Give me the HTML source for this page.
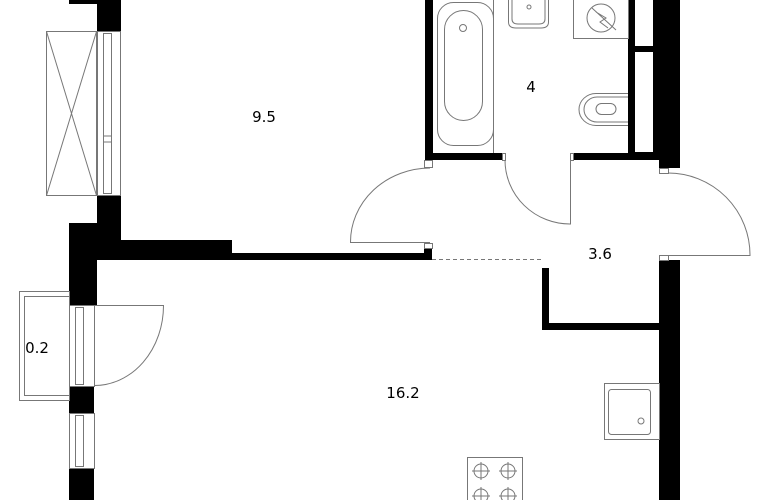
<!DOCTYPE html>
<html><head><meta charset="utf-8"><style>
html,body{margin:0;padding:0;background:#fff;}
svg{display:block;}
text{font-family:"DejaVu Sans","Liberation Sans",sans-serif;font-size:15px;fill:#000;}
</style></head><body>
<svg width="770" height="500" viewBox="0 0 770 500" xmlns="http://www.w3.org/2000/svg">
<g fill="#000">
<!-- left walls -->
<rect x="69" y="0" width="52" height="4"/>
<rect x="97" y="0" width="24" height="31"/>
<rect x="97" y="195" width="24" height="65"/>
<rect x="69" y="223" width="28" height="82"/>
<rect x="97" y="240" width="135" height="20"/>
<rect x="232" y="253" width="200" height="7"/>
<rect x="424" y="248" width="8" height="12"/>
<rect x="69" y="386" width="25" height="27"/>
<rect x="69" y="468" width="25" height="32"/>
<!-- bathroom walls -->
<rect x="425" y="0" width="8" height="160"/>
<rect x="425" y="153" width="77" height="7"/>
<rect x="573" y="153" width="87" height="7"/>
<rect x="628" y="0" width="52" height="160"/>
<rect x="659" y="0" width="21" height="168"/>
<rect x="659" y="260" width="21" height="240"/>
<rect x="542" y="268" width="7" height="62"/>
<rect x="542" y="323" width="117" height="7"/>
</g>
<g fill="#fff">
<rect x="635" y="0" width="18" height="46"/>
<rect x="635" y="52" width="18" height="100"/>
</g>
<g fill="none" stroke="#777" stroke-width="1">
<!-- AC box & window -->
<rect x="46.5" y="31.5" width="50" height="164"/>
<path d="M46.5 31.5 L96.5 195.5 M96.5 31.5 L46.5 195.5"/>
<rect x="97.5" y="31.5" width="23" height="164"/>
<rect x="103.5" y="33.5" width="8" height="160"/>
<path d="M103.5 136 h8 M103.5 142 h8"/>
<!-- balcony -->
<rect x="19.5" y="291.5" width="50" height="109"/>
<rect x="24.5" y="296.5" width="45" height="99"/>
<rect x="69.5" y="305.5" width="25" height="81"/>
<rect x="75.5" y="307.5" width="8" height="77"/>
<rect x="69.5" y="413.5" width="25" height="55"/>
<rect x="75.5" y="415.5" width="8" height="51"/>
<path d="M94 305.5 H163.5 A69 80 0 0 1 94 385.5"/>
<!-- room door -->
<path d="M430 168 A80 74 0 0 0 350.5 242.5 H430"/>
<rect x="424.5" y="160.5" width="8" height="7"/>
<rect x="424.5" y="243.5" width="8" height="5"/>
<!-- bath door -->
<path d="M505 160 A65 64 0 0 0 570.5 224 V160"/>
<rect x="502.5" y="153.5" width="3" height="7"/>
<rect x="570.5" y="153.5" width="3" height="7"/>
<!-- entrance door -->
<path d="M668 173 A82 82 0 0 1 750 255.5 H668"/>
<rect x="659.5" y="168.5" width="9" height="5"/>
<rect x="659.5" y="255.5" width="9" height="5"/>
<!-- bath -->
<rect x="437.5" y="2.5" width="56" height="143" rx="16"/>
<rect x="444.5" y="10.5" width="38" height="110" rx="19"/>
<circle cx="463" cy="28" r="3.5"/>
<path d="M493.5 0 V153"/>
<!-- sink -->
<path d="M508.5 0 V22 Q508.5 28 516 28 H541 Q548.5 28 548.5 22 V0"/>
<path d="M512 0 V19 Q512 24 518 24 H539 Q545 24 545 19 V0"/>
<circle cx="529" cy="7" r="2"/>
<!-- washing machine -->
<rect x="573.5" y="-1" width="55" height="39.5"/>
<circle cx="601" cy="18" r="14"/>
<path d="M592 8 L616 30 M596 12 L606 18 L600 22 L608 28"/>
<!-- toilet -->
<path d="M628 93.5 H596 A17 16 0 0 0 596 125.5 H628"/>
<path d="M628 97 H597 A13 12.5 0 0 0 597 122 H628"/>
<rect x="596" y="103.5" width="20" height="11" rx="5.5"/>
<!-- dashed -->
<path d="M432 259.5 H543" stroke-dasharray="4 3"/>
<!-- fridge -->
<rect x="604.5" y="383.5" width="55" height="56"/>
<rect x="608.5" y="389.5" width="42" height="45" rx="3"/>
<circle cx="641" cy="421" r="3"/>
<!-- stove -->
<rect x="467.5" y="457.5" width="55" height="44"/>
<circle cx="481" cy="471" r="7"/><circle cx="508" cy="471" r="7"/>
<circle cx="481" cy="496" r="7"/><circle cx="508" cy="496" r="7"/>
<path d="M472 471 h18 M481 462 v18 M499 471 h18 M508 462 v18 M472 496 h18 M481 487 v13 M499 496 h18 M508 487 v13"/>
</g>
<text x="264" y="122" text-anchor="middle">9.5</text>
<text x="531" y="92" text-anchor="middle">4</text>
<text x="600" y="259" text-anchor="middle">3.6</text>
<text x="403" y="398" text-anchor="middle">16.2</text>
<text x="37" y="353" text-anchor="middle">0.2</text>
</svg>
</body></html>
